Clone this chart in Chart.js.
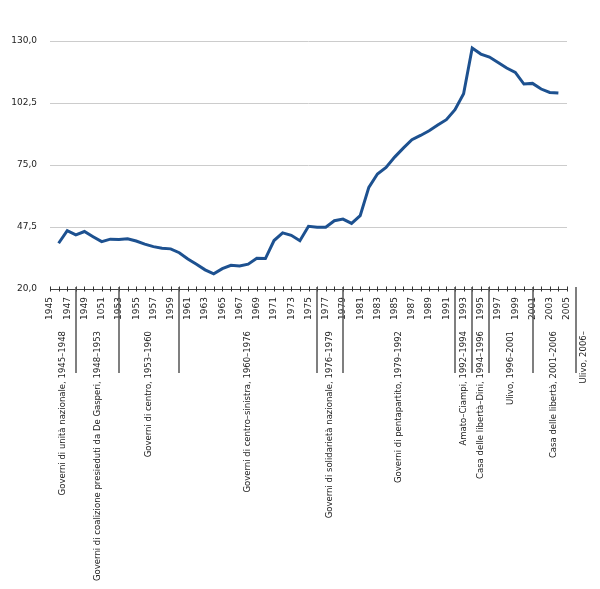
<!DOCTYPE html>
<html>
<head>
<meta charset="utf-8">
<script src="https://cdn.jsdelivr.net/npm/chart.js@4"></script>
<style>
  body { margin: 0; background: #fff; }
  #wrap { width: 600px; height: 589px; position: relative; }
</style>
</head>
<body>
<div id="wrap"><canvas id="chart"></canvas></div>
<script>
// debito pubblico / PIL
const years = [1946, 1947, 1948, 1949, 1950, 1951, 1952, 1953, 1954, 1955,
  1956, 1957, 1958, 1959, 1960, 1961, 1962, 1963, 1964, 1965,
  1966, 1967, 1968, 1969, 1970, 1971, 1972, 1973, 1974, 1975,
  1976, 1977, 1978, 1979, 1980, 1981, 1982, 1983, 1984, 1985,
  1986, 1987, 1988, 1989, 1990, 1991, 1992, 1993, 1994, 1995,
  1996, 1997, 1998, 1999, 2000, 2001, 2002, 2003, 2004]
const debt = [40.3, 45.9, 44.0, 45.5, 43.2, 41.0, 42.1, 42.0, 42.3, 41.3,
  39.9, 38.8, 38.1, 37.8, 36.1, 33.3, 31.0, 28.5, 26.7, 29.0,
  30.5, 30.2, 31.0, 33.6, 33.5, 41.5, 44.9, 43.8, 41.4, 47.8,
  47.4, 47.4, 50.3, 51.0, 49.1, 52.5, 65.1, 71.0, 73.9, 78.5,
  82.5, 86.2, 88.1, 90.2, 92.7, 95.1, 99.5, 106.6, 126.9, 124.2,
  122.9, 120.5, 118.0, 116.1, 110.9, 111.2, 108.7, 107.2, 106.9]

// etichette dell'asse x (una ogni due anni, come nell'originale)
const tickYears = [1945, 1947, 1949, 1951, 1953, 1955, 1957, 1959, 1961, 1963,
  1965, 1967, 1969, 1971, 1973, 1975, 1977, 1979, 1981, 1983, 1985, 1987,
  1989, 1991, 1993, 1995, 1997, 1999, 2001, 2003, 2005]
const tickLabels = ['1945', '1947', '1949', '1051', '1953', '1955', '1957', '1959',
  '1961', '1963', '1965', '1967', '1969', '1971', '1973', '1975', '1977', '1979',
  '1981', '1983', '1985', '1987', '1989', '1991', '1993', '1995', '1997', '1999',
  '2001', '2003', '2005']

// governi
const govStart = [1945, 1948, 1953, 1960, 1976, 1979, 1992, 1994, 1996, 2001, 2006]
const govEnd = [1948, 1953, 1960, 1976, 1979, 1992, 1994, 1996, 2001, 2006, 2008]
const govLabels = [
  'Governi di unità nazionale, 1945–1948',
  'Governi di coalizione presieduti da De Gasperi, 1948–1953',
  'Governi di centro, 1953–1960',
  'Governi di centro–sinistra, 1960–1976',
  'Governi di solidarietà nazionale, 1976–1979',
  'Governi di pentapartito, 1979–1992',
  'Amato–Ciampi, 1992–1994',
  'Casa delle libertà–Dini, 1994–1996',
  'Ulivo, 1996–2001',
  'Casa delle libertà, 2001–2006',
  'Ulivo, 2006–'
]

const FONT = 'DejaVu Sans'

const governi = {
  id: 'governi',
  afterDraw(chart) {
    const { ctx, chartArea } = chart
    const x = chart.scales.x
    const base = chartArea.bottom
    ctx.save()
    // tacche annuali
    ctx.strokeStyle = '#333'
    ctx.lineWidth = 1
    for (let yr = x.min; yr <= x.max; yr++) {
      const px = Math.round(x.getPixelForValue(yr)) + 0.5
      ctx.beginPath()
      ctx.moveTo(px, base - 2.5)
      ctx.lineTo(px, base + 2.5)
      ctx.stroke()
    }
    // separatori tra i governi
    ctx.strokeStyle = '#555'
    ctx.lineWidth = 1.5
    govStart.slice(1).forEach(yr => {
      const px = Math.round(x.getPixelForValue(yr))
      ctx.beginPath()
      ctx.moveTo(px, base - 2)
      ctx.lineTo(px, base + 84)
      ctx.stroke()
    })
    // nomi dei governi
    ctx.fillStyle = '#222'
    ctx.font = '8.5px "' + FONT + '"'
    ctx.textAlign = 'right'
    ctx.textBaseline = 'middle'
    govLabels.forEach((label, i) => {
      const cx = (x.getPixelForValue(govStart[i]) + x.getPixelForValue(govEnd[i])) / 2
      ctx.save()
      ctx.translate(cx, base + 42)
      ctx.rotate(-Math.PI / 2)
      ctx.fillText(label, 0, 0)
      ctx.restore()
    })
    ctx.restore()
  }
}

const config = {
  type: 'line',
  data: {
    datasets: [
      {
        data: years.map((yr, i) => ({ x: yr, y: debt[i] })),
        borderColor: '#1d5190',
        borderWidth: 3,
        pointRadius: 0,
        tension: 0,
        fill: false
      }
    ]
  },
  options: {
    responsive: true,
    maintainAspectRatio: false,
    animation: false,
    layout: {
      padding: { top: 41, right: 33, left: 0, bottom: 0 }
    },
    plugins: {
      legend: { display: false },
      tooltip: { enabled: false }
    },
    scales: {
      x: {
        type: 'linear',
        min: 1945,
        max: 2005,
        afterBuildTicks: scale => {
          scale.ticks = tickYears.map(v => ({ value: v }))
        },
        afterFit: scale => {
          scale.height = 300
        },
        grid: { drawOnChartArea: false, drawTicks: false },
        border: { display: true, color: '#444', width: 1 },
        ticks: {
          autoSkip: false,
          maxRotation: 90,
          minRotation: 90,
          padding: 8,
          color: '#222',
          font: { family: FONT, size: 9 },
          callback: (value, index) => tickLabels[index]
        }
      },
      y: {
        min: 20,
        max: 130,
        afterFit: scale => {
          scale.width = 50
        },
        grid: { color: '#cccccc', lineWidth: 1, drawTicks: false },
        border: { display: false },
        ticks: {
          stepSize: 27.5,
          padding: 13,
          color: '#222',
          font: { family: FONT, size: 9 },
          callback: value => value.toFixed(1).replace('.', ',')
        }
      }
    }
  },
  plugins: [governi]
}

const ctx = document.getElementById('chart').getContext('2d')
new Chart(ctx, config)
</script>
</body>
</html>
